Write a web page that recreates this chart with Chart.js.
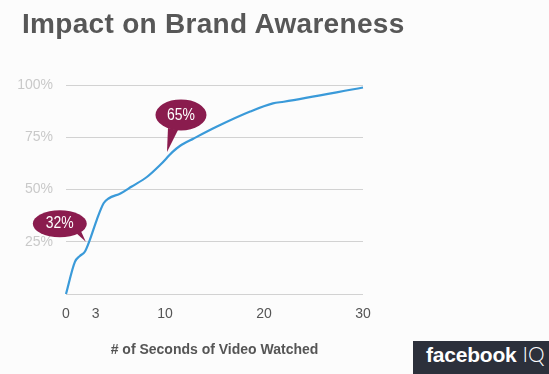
<!DOCTYPE html>
<html>
<head>
<meta charset="utf-8">
<script src="https://cdn.jsdelivr.net/npm/chart.js@4/dist/chart.umd.min.js"></script>
<style>
  html, body { margin: 0; padding: 0; background: #fcfcfc; }
  #wrap { position: relative; width: 549px; height: 374px; overflow: hidden; }
  #title { position: absolute; left: 22px; top: 10px; font: bold 28px/28px "Liberation Sans", Arial, sans-serif; letter-spacing: 0.3px; color: #575757; white-space: nowrap; }
  #logo { position: absolute; left: 413px; top: 341px; width: 136px; height: 33px; background: #2c303b; color: #fff; white-space: nowrap; line-height: 30px; padding-left: 13px; box-sizing: border-box; }
  #logo .fb { font: bold 21px "Liberation Sans", Arial, sans-serif; letter-spacing: -0.2px; }
  #logo .iq { font: 300 21px Lato, "Liberation Sans", sans-serif; margin-left: 6px; }
  canvas { position: absolute; left: 0; top: 0; }
</style>
</head>
<body>
<div id="wrap">
  <canvas id="c" width="549" height="374"></canvas>
  <div id="title">Impact on Brand Awareness</div>
  <div id="logo"><span class="fb">facebook</span><span class="iq">IQ</span></div>
</div>
<script>
const seconds   = [0, 0.9, 1.4, 1.9, 2.4, 3.1, 3.8, 4.3, 5.5, 6.6, 8.2, 9.5, 10.8, 11.5, 12.9, 15.2, 18.6, 20.9, 22.0, 30];
const awareness = [0, 15.4, 18.2, 20.2, 25.8, 35.4, 43.4, 45.7, 48.1, 51.3, 56.1, 61.7, 68.1, 70.8, 74.4, 80, 87.3, 91.2, 92, 98.8];
const xTickValues = [0, 3, 10, 20, 30];
const yTickValues = [0, 25, 50, 75, 100];
const calloutLabels = ['32%', '65%'];
const calloutSeconds = [2.0, 10.2];
const calloutAwareness = [25, 68];

const FONT = '"Liberation Sans", Arial, Helvetica, sans-serif';
Chart.defaults.font.family = FONT;

const bubbleStyles = [
  { dx: -26, dy: -18, rx: 27, ry: 13.5, b1: [16, 9], b2: [21, 7] },
  { dx: 14, dy: -37, rx: 25.5, ry: 15.5, b1: [-13, 13], b2: [-3, 15] }
];

const calloutPlugin = {
  id: 'callouts',
  afterDatasetsDraw(chart) {
    const { ctx, scales: { x, y } } = chart;
    calloutLabels.forEach((lab, i) => {
      const tx = x.getPixelForValue(calloutSeconds[i]);
      const ty = y.getPixelForValue(calloutAwareness[i]);
      const s = bubbleStyles[i];
      const cx = tx + s.dx, cy = ty + s.dy;
      ctx.save();
      ctx.fillStyle = '#8a1c4e';
      ctx.beginPath();
      ctx.ellipse(cx, cy, s.rx, s.ry, 0, 0, Math.PI * 2);
      ctx.fill();
      ctx.beginPath();
      ctx.moveTo(cx + s.b1[0], cy + s.b1[1]);
      ctx.lineTo(tx, ty);
      ctx.lineTo(cx + s.b2[0], cy + s.b2[1]);
      ctx.closePath();
      ctx.fill();
      ctx.translate(cx, cy);
      ctx.scale(0.82, 1);
      ctx.fillStyle = '#ffffff';
      ctx.font = '17px ' + FONT;
      ctx.textAlign = 'center';
      ctx.textBaseline = 'middle';
      ctx.fillText(lab, 0, 0);
      ctx.restore();
    });
  }
};

new Chart(document.getElementById('c'), {
  type: 'line',
  data: {
    datasets: [{
      data: seconds.map((s, i) => ({ x: s, y: awareness[i] })),
      borderColor: '#3a9ad9',
      borderWidth: 2.2,
      pointRadius: 0,
      cubicInterpolationMode: 'monotone',
      fill: false,
      clip: false
    }]
  },
  options: {
    responsive: false,
    animation: false,
    devicePixelRatio: 1,
    layout: { padding: { top: 85, left: 0, right: 186, bottom: 15.6 } },
    plugins: { legend: { display: false }, tooltip: { enabled: false } },
    scales: {
      x: {
        type: 'linear', min: 0, max: 30,
        afterBuildTicks: a => { a.ticks = xTickValues.map(v => ({ value: v })); },
        afterFit: s => { s.height = 64.4; },
        grid: { display: false, drawTicks: false },
        border: { display: false },
        ticks: { padding: 12, color: '#555555', font: { size: 14 }, maxRotation: 0, autoSkip: false },
        title: { display: true, text: '# of Seconds of Video Watched', color: '#555555', font: { size: 14, weight: 'bold' }, padding: 0 }
      },
      y: {
        min: 0, max: 100,
        afterBuildTicks: a => { a.ticks = yTickValues.map(v => ({ value: v })); },
        afterFit: s => { s.width = 66; },
        grid: { color: '#d2d2d2', lineWidth: 1, drawTicks: false },
        border: { display: false },
        ticks: { padding: 13, color: '#c9c9c9', font: { size: 14 }, callback: v => v === 0 ? '' : v + '%' }
      }
    }
  },
  plugins: [calloutPlugin]
});
</script>
</body>
</html>
